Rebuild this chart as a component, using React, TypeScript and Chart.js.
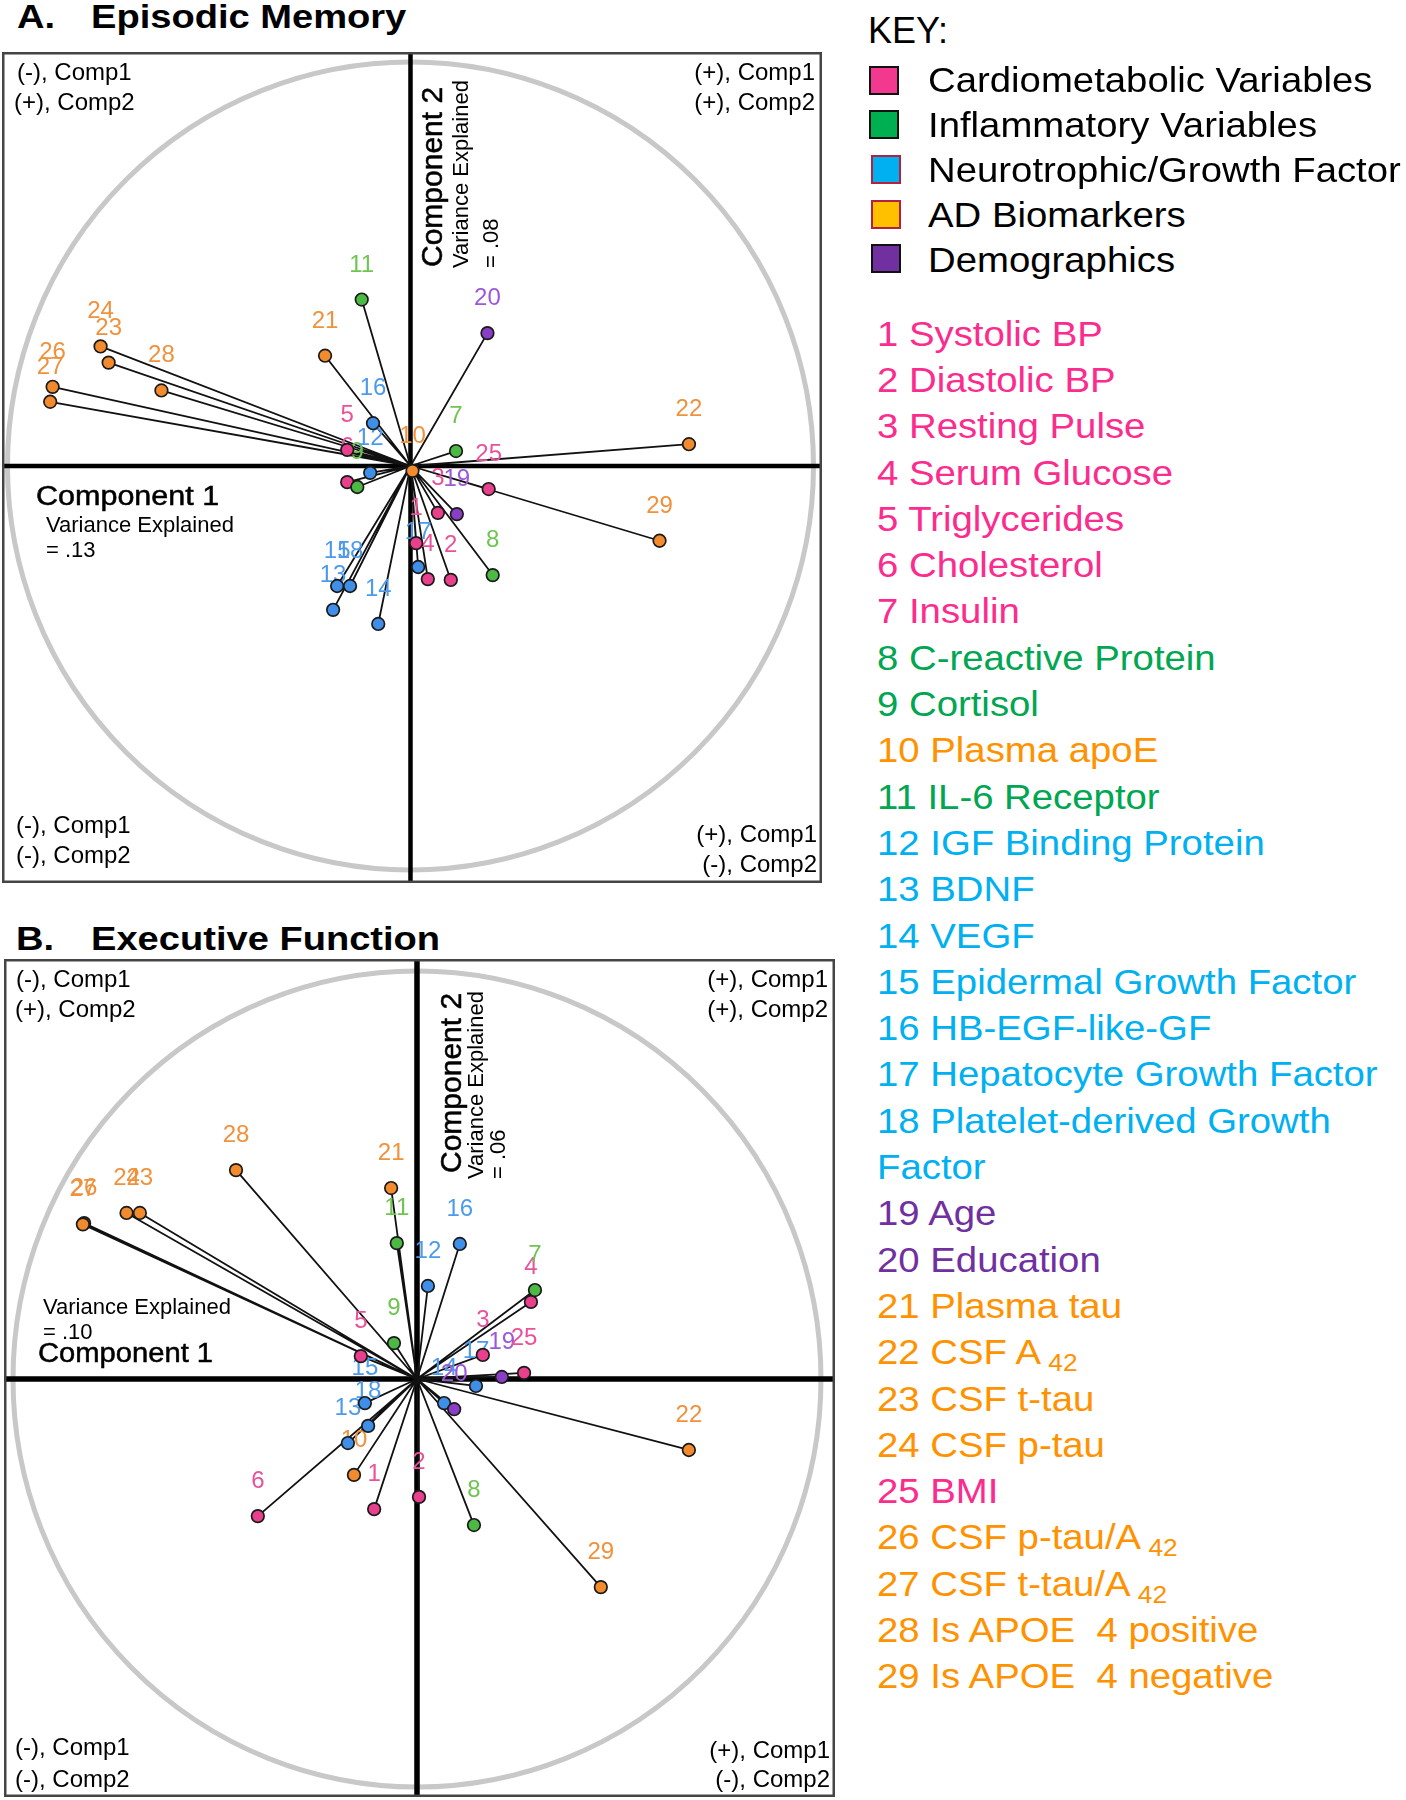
import React, { useEffect, useRef } from 'react';
import { Chart, registerables } from 'chart.js';

Chart.register(...registerables);

const FONT = "'Liberation Sans', Arial, Helvetica, sans-serif";

// ---------------- data ----------------
const VAR_IDS = ['1','2','3','4','5','6','7','8','9','10','11','12','13','14','15','16','17','18','19','20','21','22','23','24','25','26','27','28','29'];

// group used for the plotted marker / number label
const POINT_GROUPS = ['c','c','c','c','c','c','i','i','i','a','i','n','n','n','n','n','n','n','d','d','a','a','a','a','c','a','a','a','a'];
// group used for the coloured list on the right
const LIST_GROUPS = ['c','c','c','c','c','c','c','i','i','a','i','n','n','n','n','n','n','n','d','d','a','a','a','a','c','a','a','a','a'];

const VAR_NAMES = ['Systolic BP','Diastolic BP','Resting Pulse','Serum Glucose','Triglycerides','Cholesterol','Insulin','C-reactive Protein','Cortisol','Plasma apoE','IL-6 Receptor','IGF Binding Protein','BDNF','VEGF','Epidermal Growth Factor','HB-EGF-like-GF','Hepatocyte Growth Factor','Platelet-derived Growth\nFactor','Age','Education','Plasma tau','CSF A','CSF t-tau','CSF p-tau','BMI','CSF p-tau/A','CSF t-tau/A','Is APOE  4 positive','Is APOE  4 negative'];
const VAR_SUBSCRIPTS = ['','','','','','','','','','','','','','','','','','','','','','42','','','','42','42','',''];

const KEY_LABELS = ['Cardiometabolic Variables','Inflammatory Variables','Neurotrophic/Growth Factor','AD Biomarkers','Demographics'];
const KEY_FILLS = ['#f3388f','#00b050','#00b0f0','#ffc000','#7030a0'];
const KEY_BORDERS = ['#111111','#111111','#b3213f','#b3213f','#111111'];

// A. Episodic Memory loadings
const EM_COMP1 = [0.014, 0.100, 0.068, 0.043, -0.157, -0.157, 0.113, 0.204, -0.132, 0.005, -0.121, -0.100, -0.192, -0.080, -0.182, -0.093, 0.019, -0.150, 0.115, 0.191, -0.212, 0.691, -0.749, -0.769, 0.194, -0.888, -0.894, -0.618, 0.618];
const EM_COMP2 = [-0.191, -0.282, -0.116, -0.280, 0.040, -0.040, 0.037, -0.270, -0.052, -0.012, 0.412, -0.017, -0.356, -0.391, -0.297, 0.106, -0.250, -0.297, -0.119, 0.329, 0.273, 0.054, 0.256, 0.296, -0.057, 0.196, 0.159, 0.187, -0.185];

// B. Executive Function loadings
const EF_COMP1 = [-0.106, 0.005, 0.163, 0.282, -0.139, -0.394, 0.292, 0.141, -0.057, -0.156, -0.050, 0.027, -0.171, 0.067, -0.129, 0.106, 0.146, -0.121, 0.210, 0.092, -0.064, 0.673, -0.686, -0.719, 0.265, -0.824, -0.827, -0.448, 0.455];
const EF_COMP2 = [-0.319, -0.289, 0.059, 0.189, 0.056, -0.336, 0.218, -0.358, 0.088, -0.235, 0.333, 0.228, -0.157, -0.059, -0.059, 0.331, -0.017, -0.115, 0.005, -0.074, 0.468, -0.174, 0.407, 0.407, 0.015, 0.382, 0.379, 0.512, -0.510];

// ---------------- styles ----------------
const POINT_COLORS: Record<string, string> = { c: '#e8408c', i: '#4cb944', n: '#3f8fe8', a: '#f28a2e', d: '#8a3ec6' };
const LABEL_COLORS: Record<string, string> = { c: '#e9529a', i: '#6fc452', n: '#4d9aec', a: '#f0913c', d: '#9c58d8' };
const LIST_COLORS: Record<string, string> = { c: '#fb2c8e', i: '#00a651', n: '#00b0f0', a: '#ff9200', d: '#7030a0' };

type PanelCfg = { left: number; top: number; width: number; height: number; xMin: number; xMax: number; yMin: number; yMax: number; axisWidth: number };

const PANEL_A: PanelCfg = { left: 2, top: 52, width: 820, height: 831, xMin: -1.0136, xMax: 1.0211, yMin: -1.0322, yMax: 1.0248, axisWidth: 4.5 };
const PANEL_B: PanelCfg = { left: 4, top: 959, width: 831, height: 838, xMin: -1.0223, xMax: 1.0347, yMin: -1.0245, yMax: 1.0294, axisWidth: 5.5 };

const biplotPlugin = {
  id: 'biplot',
  beforeDatasetsDraw(chart: any, _args: any, opts: any) {
    const { ctx, chartArea: a, scales } = chart;
    const x = scales.x, y = scales.y;
    const cx = x.getPixelForValue(0);
    const cy = y.getPixelForValue(0);
    const rx = x.getPixelForValue(1) - cx;
    const ry = cy - y.getPixelForValue(1);
    ctx.save();
    // correlation circle
    ctx.strokeStyle = '#c8c8c8';
    ctx.lineWidth = 5;
    ctx.beginPath();
    ctx.ellipse(cx, cy, rx, ry, 0, 0, Math.PI * 2);
    ctx.stroke();
    // component axes
    ctx.strokeStyle = '#000';
    ctx.lineWidth = opts.axisWidth || 4.5;
    ctx.beginPath();
    ctx.moveTo(a.left, cy); ctx.lineTo(a.right, cy);
    ctx.moveTo(cx, a.top); ctx.lineTo(cx, a.bottom);
    ctx.stroke();
    // frame
    ctx.strokeStyle = '#454545';
    ctx.lineWidth = 2.5;
    ctx.strokeRect(a.left + 1.25, a.top + 1.25, a.width - 2.5, a.height - 2.5);
    // spokes
    const meta = chart.getDatasetMeta(0);
    ctx.strokeStyle = '#111';
    ctx.lineWidth = 1.8;
    ctx.beginPath();
    meta.data.forEach((el: any) => { ctx.moveTo(cx, cy); ctx.lineTo(el.x, el.y); });
    ctx.stroke();
    // number labels
    ctx.font = `24px ${FONT}`;
    ctx.textAlign = 'center';
    ctx.textBaseline = 'alphabetic';
    meta.data.forEach((el: any, i: number) => {
      ctx.fillStyle = LABEL_COLORS[POINT_GROUPS[i]];
      ctx.fillText(VAR_IDS[i], el.x, el.y - 28);
    });
    ctx.restore();
  },
};

function makeChart(canvas: HTMLCanvasElement, cfg: PanelCfg, c1: number[], c2: number[]) {
  const pts = c1.map((v, i) => ({ x: v, y: c2[i] }));
  return new Chart(canvas, {
    type: 'scatter',
    data: {
      datasets: [{
        data: pts,
        pointRadius: 6.3,
        pointBorderWidth: 1.7,
        pointBorderColor: '#1a1a1a',
        pointBackgroundColor: POINT_GROUPS.map((g) => POINT_COLORS[g]),
        showLine: false,
      }],
    },
    options: {
      responsive: false,
      animation: false,
      events: [],
      layout: { padding: 0, autoPadding: false },
      plugins: { legend: { display: false }, tooltip: { enabled: false }, biplot: { axisWidth: cfg.axisWidth } } as any,
      scales: {
        x: { type: 'linear', min: cfg.xMin, max: cfg.xMax, display: false },
        y: { type: 'linear', min: cfg.yMin, max: cfg.yMax, display: false },
      },
    },
    plugins: [biplotPlugin as any],
  });
}

// ---------------- text helpers ----------------
function HText(props: { x: number; base: number; size: number; children: any; color?: string; weight?: number; align?: 'left' | 'right'; sx?: number; stroke?: number }) {
  const { x, base, size, children, color = '#000', weight = 400, align = 'left', sx = 1, stroke = 0 } = props;
  const style: any = {
    position: 'absolute',
    top: base - 0.8465 * size,
    fontSize: size,
    lineHeight: `${size}px`,
    fontWeight: weight,
    color,
    whiteSpace: 'pre',
    transformOrigin: align === 'left' ? 'left top' : 'right top',
    transform: sx !== 1 ? `scaleX(${sx})` : undefined,
  };
  if (stroke) style.WebkitTextStroke = `${stroke}px ${color}`;
  if (align === 'left') style.left = x; else style.right = 1406 - x;
  return <div style={style}>{children}</div>;
}

function VText(props: { bx: number; start: number; size: number; children: any; stroke?: number }) {
  const { bx, start, size, children, stroke = 0 } = props;
  const style: any = { position: 'absolute', left: bx - 0.8465 * size, top: start, fontSize: size, lineHeight: `${size}px`, whiteSpace: 'pre', color: '#000', transformOrigin: '0 0', transform: 'rotate(-90deg)' };
  if (stroke) style.WebkitTextStroke = `${stroke}px #000`;
  return <div style={style}>{children}</div>;
}

function Quadrants(props: { l: number; r: number; top: [number, number]; topR: [number, number]; bot: [number, number]; botR: [number, number]; lx: [number, number] }) {
  const { l, r, top, topR, bot, botR, lx } = props;
  return (
    <>
      <HText x={lx[0]} base={top[0]} size={24}>{'(-), Comp1'}</HText>
      <HText x={lx[1]} base={top[1]} size={24}>{'(+), Comp2'}</HText>
      <HText x={r} base={topR[0]} size={24} align="right">{'(+), Comp1'}</HText>
      <HText x={r} base={topR[1]} size={24} align="right">{'(+), Comp2'}</HText>
      <HText x={l} base={bot[0]} size={24}>{'(-), Comp1'}</HText>
      <HText x={l} base={bot[1]} size={24}>{'(-), Comp2'}</HText>
      <HText x={r + 2} base={botR[0]} size={24} align="right">{'(+), Comp1'}</HText>
      <HText x={r + 2} base={botR[1]} size={24} align="right">{'(-), Comp2'}</HText>
    </>
  );
}

export default function App() {
  const refA = useRef<HTMLCanvasElement>(null);
  const refB = useRef<HTMLCanvasElement>(null);

  useEffect(() => {
    const charts: Chart[] = [];
    if (refA.current) charts.push(makeChart(refA.current, PANEL_A, EM_COMP1, EM_COMP2));
    if (refB.current) charts.push(makeChart(refB.current, PANEL_B, EF_COMP1, EF_COMP2));
    return () => charts.forEach((c) => c.destroy());
  }, []);

  const canvasStyle = (p: PanelCfg): React.CSSProperties => ({ position: 'absolute', left: p.left, top: p.top, width: p.width, height: p.height, display: 'block' });

  return (
    <div style={{ position: 'absolute', left: 0, top: 0, width: 1406, height: 1800, background: '#fff', fontFamily: FONT, overflow: 'hidden', color: '#000' }}>
      <canvas ref={refA} width={PANEL_A.width} height={PANEL_A.height} style={canvasStyle(PANEL_A)} />
      <canvas ref={refB} width={PANEL_B.width} height={PANEL_B.height} style={canvasStyle(PANEL_B)} />

      {/* titles */}
      <HText x={17} base={28} size={34} weight={700} sx={1.12}>A.</HText>
      <HText x={91} base={28} size={34} weight={700} sx={1.12}>Episodic Memory</HText>
      <HText x={16} base={950} size={34} weight={700} sx={1.12}>B.</HText>
      <HText x={91} base={950} size={34} weight={700} sx={1.12}>Executive Function</HText>

      {/* Panel A annotations */}
      <Quadrants l={16} r={815} lx={[17, 14]} top={[80, 110]} topR={[80, 110]} bot={[833, 863]} botR={[842, 872]} />
      <HText x={36} base={506} size={27} sx={1.13} stroke={0.5}>Component 1</HText>
      <HText x={46} base={533} size={22}>Variance Explained</HText>
      <HText x={46} base={558} size={22}>= .13</HText>
      <VText bx={442} start={267} size={30} stroke={0.5}>Component 2</VText>
      <VText bx={469} start={268} size={22}>Variance Explained</VText>
      <VText bx={499} start={268} size={22}>= .08</VText>

      {/* Panel B annotations */}
      <Quadrants l={15} r={828} lx={[16, 15]} top={[987, 1017]} topR={[987, 1017]} bot={[1755, 1787]} botR={[1758, 1787]} />
      <HText x={43} base={1315} size={22}>Variance Explained</HText>
      <HText x={43} base={1340} size={22}>= .10</HText>
      <HText x={38} base={1363} size={27} sx={1.08} stroke={0.5}>Component 1</HText>
      <VText bx={461} start={1173} size={30} stroke={0.5}>Component 2</VText>
      <VText bx={484} start={1179} size={22}>Variance Explained</VText>
      <VText bx={506} start={1179} size={22}>= .06</VText>

      {/* Key */}
      <HText x={868} base={43} size={36}>KEY:</HText>
      {KEY_LABELS.map((lab, i) => (
        <React.Fragment key={lab}>
          <div style={{ position: 'absolute', left: i < 2 ? 869 : 871, top: 65.5 + i * 44.7, width: 30, height: 29, boxSizing: 'border-box', border: `2.5px solid ${KEY_BORDERS[i]}`, background: KEY_FILLS[i] }} />
          <HText x={928} base={92 + i * 45} size={35} sx={1.095}>{lab}</HText>
        </React.Fragment>
      ))}

      {/* numbered variable list */}
      <div style={{ position: 'absolute', left: 877, top: 310.7, fontSize: 35, lineHeight: '46.3px', whiteSpace: 'pre', transformOrigin: 'left top', transform: 'scaleX(1.095)' }}>
        {VAR_IDS.map((id, i) => (
          <div key={id} style={{ color: LIST_COLORS[LIST_GROUPS[i]] }}>
            {`${id} ${VAR_NAMES[i]}`}
            {VAR_SUBSCRIPTS[i] ? (
              <span style={{ fontSize: 24, lineHeight: '24px', verticalAlign: '-7px' }}>{` ${VAR_SUBSCRIPTS[i]}`}</span>
            ) : null}
          </div>
        ))}
      </div>
    </div>
  );
}
